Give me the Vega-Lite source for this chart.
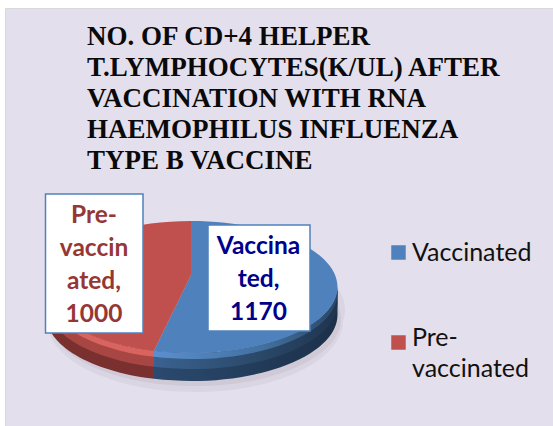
{
"$schema":"https://vega.github.io/schema/vega-lite/v6.json",
"width":548,"height":418,
"padding":{"left":5,"top":8,"right":0,"bottom":0},
"autosize":{"type":"none"},
"background":"#ffffff",
"view":{"fill":"#e4dfec","stroke":"#d9d9d9"},
"title":{"text":["NO. OF CD+4 HELPER","T.LYMPHOCYTES(K/UL) AFTER","VACCINATION WITH RNA","HAEMOPHILUS INFLUENZA","TYPE B VACCINE"],"anchor":"start","frame":"group","dx":82,"dy":194,"offset":0,"baseline":"bottom","font":"Liberation Serif","fontSize":27,"fontWeight":"bold","color":"#0a0a0a","lineHeight":31},
"data":{"values":[
{"category":"Vaccinated","value":1170,"label":"Vaccina\nted,\n1170"},
{"category":"Pre-vaccinated","value":1000,"label":"Pre-\nvaccin\nated,\n1000"}
]},
"layer":[
{"transform":[{"filter":"datum.category==='Vaccinated'"}],
 "mark":{"type":"point","filled":true,"size":4,"opacity":0.35,"color":"#c9c3d0","shape":"M-146,0A146,70 0 1 0 150,0A150,70 0 1 0 -146,0Z"},
 "encoding":{"x":{"datum":193,"type":"quantitative","scale":{"domain":[5,553]},"axis":null},"y":{"datum":321,"type":"quantitative","scale":{"domain":[426,8]},"axis":null}}},
{"transform":[{"filter":"datum.category==='Vaccinated'"}],
 "mark":{"type":"point","filled":true,"size":4,"opacity":0.6,"color":"#c9c3d0","shape":"M-144,0A146,67 0 1 0 148,0A146,67 0 1 0 -144,0Z"},
 "encoding":{"x":{"datum":193,"type":"quantitative","scale":{"domain":[5,553]},"axis":null},"y":{"datum":319,"type":"quantitative","scale":{"domain":[426,8]},"axis":null}}},
{"transform":[{"filter":"datum.category==='Vaccinated'"}],
 "mark":{"type":"point","filled":true,"size":4,"opacity":1,"color":{"gradient":"linear","x1":0,"y1":0,"x2":1,"y2":0,"stops":[{"offset":0,"color":"#2b4a6f"},{"offset":1,"color":"#1c3049"}]},"shape":"M146.5,0A146.5,66 0 0 1 -37,63.86L-37,91.86A146.5,66 0 0 0 146.5,28Z"},
 "encoding":{"x":{"datum":191,"type":"quantitative","scale":{"domain":[5,553]},"axis":null},"y":{"datum":287,"type":"quantitative","scale":{"domain":[426,8]},"axis":null}}},
{"transform":[{"filter":"datum.category==='Vaccinated'"}],
 "mark":{"type":"point","filled":true,"size":4,"opacity":1,"color":{"gradient":"linear","x1":0,"y1":0,"x2":1,"y2":0,"stops":[{"offset":0,"color":"#3a6291"},{"offset":0.6,"color":"#2a4766"},{"offset":1,"color":"#1f3552"}]},"shape":"M146.5,0A146.5,66 0 0 1 -37,63.86L-37,79.86A146.5,66 0 0 0 146.5,16Z"},
 "encoding":{"x":{"datum":191,"type":"quantitative","scale":{"domain":[5,553]},"axis":null},"y":{"datum":287,"type":"quantitative","scale":{"domain":[426,8]},"axis":null}}},
{"transform":[{"filter":"datum.category==='Vaccinated'"}],
 "mark":{"type":"point","filled":true,"size":4,"opacity":1,"color":{"gradient":"linear","x1":0,"y1":0,"x2":1,"y2":0,"stops":[{"offset":0,"color":"#5b8fce"},{"offset":0.6,"color":"#41709f"},{"offset":1,"color":"#2a4766"}]},"shape":"M146.5,0A146.5,66 0 0 1 -37,63.86L-37,69.86A146.5,66 0 0 0 146.5,6Z"},
 "encoding":{"x":{"datum":191,"type":"quantitative","scale":{"domain":[5,553]},"axis":null},"y":{"datum":287,"type":"quantitative","scale":{"domain":[426,8]},"axis":null}}},
{"transform":[{"filter":"datum.category==='Pre-vaccinated'"}],
 "mark":{"type":"point","filled":true,"size":4,"opacity":1,"color":"#7a302e","shape":"M-145,0A145,66 0 0 0 -37,63.86L-37,91.86A145,66 0 0 1 -145,28Z"},
 "encoding":{"x":{"datum":191,"type":"quantitative","scale":{"domain":[5,553]},"axis":null},"y":{"datum":287,"type":"quantitative","scale":{"domain":[426,8]},"axis":null}}},
{"transform":[{"filter":"datum.category==='Pre-vaccinated'"}],
 "mark":{"type":"point","filled":true,"size":4,"opacity":1,"color":"#a84644","shape":"M-145,0A145,66 0 0 0 -37,63.86L-37,79.86A145,66 0 0 1 -145,16Z"},
 "encoding":{"x":{"datum":191,"type":"quantitative","scale":{"domain":[5,553]},"axis":null},"y":{"datum":287,"type":"quantitative","scale":{"domain":[426,8]},"axis":null}}},
{"transform":[{"filter":"datum.category==='Pre-vaccinated'"}],
 "mark":{"type":"point","filled":true,"size":4,"opacity":1,"color":"#d9645f","shape":"M-145,0A145,66 0 0 0 -37,63.86L-37,69.86A145,66 0 0 1 -145,6Z"},
 "encoding":{"x":{"datum":191,"type":"quantitative","scale":{"domain":[5,553]},"axis":null},"y":{"datum":287,"type":"quantitative","scale":{"domain":[426,8]},"axis":null}}},
{"transform":[{"filter":"datum.category==='Vaccinated'"}],
 "mark":{"type":"point","filled":true,"size":4,"opacity":1,"shape":"M0,-12L0,-66A146.5,66 0 1 1 -37,63.86Z"},
 "encoding":{
  "x":{"datum":191,"type":"quantitative","scale":{"domain":[5,553]},"axis":null},
  "y":{"datum":287,"type":"quantitative","scale":{"domain":[426,8]},"axis":null},
  "color":{"field":"category","type":"nominal","scale":{"domain":["Vaccinated","Pre-vaccinated"],"range":["#4f81bd","#c0504d"]},
   "legend":{"title":null,"orient":"none","legendX":381,"legendY":232,"symbolType":"square","symbolSize":210,"symbolOpacity":1,"labelFont":"Lato","labelFontSize":25,"labelColor":"#111111","labelLimit":200,"labelOffset":1,"rowPadding":59,"labelBaseline":"middle","labelExpr":"datum.label==='Pre-vaccinated'?['Pre-','vaccinated']:datum.label","encode":{"labels":{"update":{"lineHeight":{"value":31},"dy":{"signal":"datum.value==='Pre-vaccinated'?-5:0"}}}}}}
 }},
{"transform":[{"filter":"datum.category==='Pre-vaccinated'"}],
 "mark":{"type":"point","filled":true,"size":4,"opacity":1,"shape":"M0,-12L-37,63.86A145,66 0 0 1 0,-66Z"},
 "encoding":{
  "x":{"datum":191,"type":"quantitative","scale":{"domain":[5,553]},"axis":null},
  "y":{"datum":287,"type":"quantitative","scale":{"domain":[426,8]},"axis":null},
  "color":{"field":"category","type":"nominal","scale":{"domain":["Vaccinated","Pre-vaccinated"],"range":["#4f81bd","#c0504d"]}}
 }},
{"transform":[{"filter":"datum.category==='Pre-vaccinated'"}],
 "mark":{"type":"rect","fill":"#ffffff","stroke":"#4f81bd","strokeWidth":1.5},
 "encoding":{"x":{"datum":45.5,"type":"quantitative","scale":{"domain":[5,553]},"axis":null},"x2":{"datum":143},"y":{"datum":194,"type":"quantitative","scale":{"domain":[426,8]},"axis":null},"y2":{"datum":333}}},
{"transform":[{"filter":"datum.category==='Vaccinated'"}],
 "mark":{"type":"rect","fill":"#ffffff","stroke":"#4f81bd","strokeWidth":1.5},
 "encoding":{"x":{"datum":208,"type":"quantitative","scale":{"domain":[5,553]},"axis":null},"x2":{"datum":310},"y":{"datum":225,"type":"quantitative","scale":{"domain":[426,8]},"axis":null},"y2":{"datum":331}}},
{"transform":[{"filter":"datum.category==='Pre-vaccinated'"}],
 "mark":{"type":"text","font":"Lato","fontWeight":"bold","fontSize":24.5,"lineBreak":"\n","lineHeight":33,"color":"#953735","align":"center","baseline":"middle"},
 "encoding":{"x":{"datum":94,"type":"quantitative","scale":{"domain":[5,553]},"axis":null},"y":{"datum":216,"type":"quantitative","scale":{"domain":[426,8]},"axis":null},"text":{"field":"label"}}},
{"transform":[{"filter":"datum.category==='Vaccinated'"}],
 "mark":{"type":"text","font":"Lato","fontWeight":"bold","fontSize":24.5,"lineBreak":"\n","lineHeight":33,"color":"#00008b","align":"center","baseline":"middle"},
 "encoding":{"x":{"datum":258.5,"type":"quantitative","scale":{"domain":[5,553]},"axis":null},"y":{"datum":247,"type":"quantitative","scale":{"domain":[426,8]},"axis":null},"text":{"field":"label"}}}
]
}
